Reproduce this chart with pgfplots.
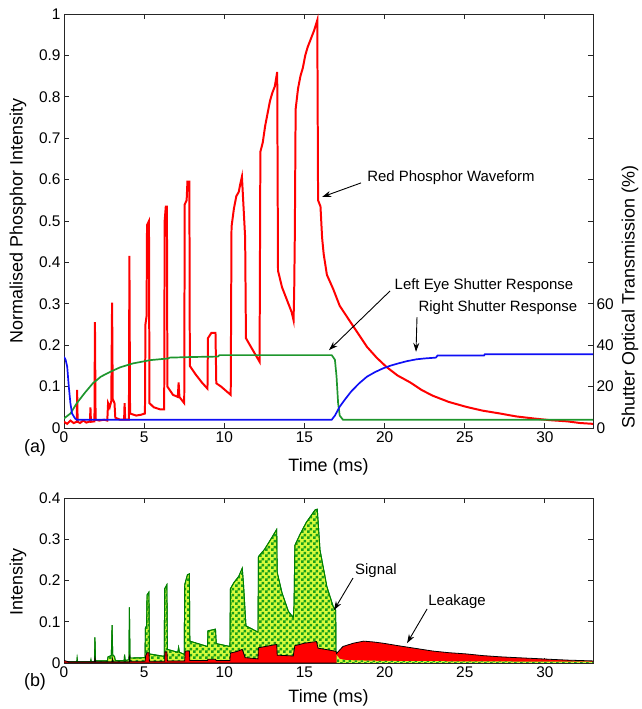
\documentclass[border=0pt]{standalone}
\usepackage{fontspec}
\setmainfont{Liberation Sans}
\usepackage{pgfplots}
\pgfplotsset{compat=1.18}
\usetikzlibrary{arrows.meta,patterns}

\definecolor{pred}{RGB}{255,0,0}
\definecolor{lgreen}{RGB}{30,150,45}
\definecolor{rblue}{RGB}{15,15,245}
\definecolor{chkgreen}{RGB}{25,160,25}
\definecolor{chkyellow}{RGB}{215,250,60}

\pgfdeclarepatternformonly{chk}{\pgfqpoint{0pt}{0pt}}{\pgfqpoint{5.6pt}{5.6pt}}{\pgfqpoint{5.6pt}{5.6pt}}{%
  \pgfpathrectangle{\pgfqpoint{0pt}{0pt}}{\pgfqpoint{2.8pt}{2.8pt}}%
  \pgfpathrectangle{\pgfqpoint{2.8pt}{2.8pt}}{\pgfqpoint{2.8pt}{2.8pt}}%
  \pgfusepath{fill}}

\tikzset{
  ann/.style={font=\fontsize{15}{16}\selectfont},
  arr/.style={-{Stealth[length=9pt,width=6pt]}, line width=0.9pt},
}
\pgfplotsset{
  common/.style={
    scale only axis, xmin=0, xmax=33,
    axis line style={black!85, line width=0.9pt},
    every tick/.style={black!85, line width=0.9pt},
    major tick length=5bp,
    tick label style={font=\fontsize{15.5}{16}\selectfont},
    label style={font=\fontsize{18}{20}\selectfont},
    /pgf/number format/assume math mode=true,
    /pgf/number format/fixed,
  },
}

\begin{document}
\begin{tikzpicture}
\useasboundingbox (0,0) rectangle (642bp,709bp);

% ---- (a) phosphor intensity ----
\begin{axis}[common,
  at={(64bp,281bp)}, anchor=south west,
  width=529bp, height=414bp,
  ymin=0, ymax=1,
  ytick={0,0.1,...,1}, ytick pos=left,
  xtick={0,5,...,30},
  xlabel={Time (ms)}, ylabel={Normalised Phosphor Intensity},
  xlabel style={at={(axis description cs:0.5,-0.094)}, anchor=center},
  ylabel style={at={(axis description cs:-0.087,0.5)}, anchor=center},
]
\addplot[pred, line width=2pt] coordinates {
(0,0.015)(0.2,0.01)(0.4,0.018)(0.6,0.012)(0.8,0.015)(0.82,0.092)(0.85,0.015)(1.0,0.012)
(1.2,0.018)(1.4,0.013)(1.62,0.016)(1.65,0.05)(1.68,0.015)(1.9,0.016)(1.93,0.256)(1.97,0.02)
(2.2,0.018)(2.5,0.02)(2.7,0.018)(2.75,0.06)(2.85,0.05)(2.95,0.065)(3.0,0.303)(3.04,0.07)
(3.15,0.06)(3.2,0.025)(3.5,0.02)(3.75,0.02)(3.78,0.06)(3.82,0.02)(4.05,0.02)(4.08,0.416)
(4.12,0.035)(4.5,0.03)(4.8,0.032)(5.05,0.035)(5.08,0.25)(5.15,0.27)(5.18,0.49)(5.3,0.5)
(5.33,0.06)(5.6,0.05)(6.0,0.045)(6.25,0.045)(6.28,0.5)(6.35,0.535)(6.42,0.535)(6.45,0.1)
(6.8,0.08)(7.1,0.075)(7.15,0.11)(7.2,0.075)(7.5,0.06)(7.53,0.54)(7.65,0.55)(7.7,0.595)
(7.82,0.595)(7.85,0.15)(8.2,0.13)(8.6,0.11)(8.95,0.095)(8.98,0.217)(9.2,0.23)(9.45,0.23)
(9.5,0.108)(9.8,0.1)(10.1,0.09)(10.4,0.08)(10.45,0.486)(10.6,0.53)(10.75,0.56)(10.9,0.57)
(11.0,0.59)(11.1,0.607)(11.3,0.46)(11.35,0.217)(11.6,0.2)(11.9,0.18)(12.2,0.16)(12.25,0.667)
(12.4,0.69)(12.55,0.73)(12.7,0.76)(12.85,0.79)(13.0,0.81)(13.15,0.825)(13.3,0.86)(13.35,0.38)
(13.6,0.34)(13.9,0.31)(14.2,0.28)(14.32,0.26)(14.36,0.33)(14.4,0.47)(14.45,0.77)(14.6,0.82)
(14.75,0.85)(14.9,0.87)(15.05,0.9)(15.2,0.92)(15.4,0.94)(15.6,0.96)(15.8,0.985)(15.85,0.55)
(16.0,0.535)(16.1,0.46)(16.2,0.42)(16.4,0.37)(16.8,0.335)(17.2,0.295)(17.8,0.26)(18.4,0.225)
(18.9,0.196)(19.5,0.17)(20.1,0.148)(20.8,0.127)(21.6,0.11)(22.3,0.092)(23,0.078)(24,0.063)
(25.1,0.051)(26.1,0.042)(27.2,0.035)(28.2,0.028)(29.3,0.023)(30.3,0.019)(31.4,0.016)
(32.2,0.012)(33,0.01)
};
\node[ann] at (axis cs:24.14,0.604) {Red Phosphor Waveform};
\draw[arr] (axis cs:18.53,0.592) -- (axis cs:16.1,0.558);
\node[ann] at (axis cs:26.2,0.345) {Left Eye Shutter Response};
\draw[arr] (axis cs:20.34,0.331) -- (axis cs:16.53,0.188);
\node[ann] at (axis cs:27.07,0.29) {Right Shutter Response};
\draw[arr] (axis cs:22.02,0.268) -- (axis cs:21.96,0.184);
\end{axis}

% ---- shutter transmission on the right axis ----
\begin{axis}[common,
  at={(64bp,281bp)}, anchor=south west,
  width=529bp, height=414bp,
  axis x line=none, axis y line*=right,
  ymin=0, ymax=200,
  ytick={0,20,...,200},
  yticklabels={0,20,40,60,,,,,,,},
  ylabel={Shutter Optical Transmission (\%)},
  ylabel style={at={(axis description cs:1.07,0.316)}, anchor=center},
]
\addplot[lgreen, line width=1.7pt] coordinates {
(0,4.6)(0.4,7)(0.8,12)(1.3,17)(1.8,21.6)(2.3,24.8)(2.9,27.2)(3.5,29.3)(4.3,31.2)(5.4,32.8)
(6.5,33.6)(6.6,34)(8,34.3)(9.6,34.5)(9.7,35.2)(16.7,35.2)(16.9,33)(17.0,25)(17.1,12)
(17.2,6)(17.4,4)(33,4)
};
\addplot[rblue, line width=1.7pt] coordinates {
(0,34.4)(0.1,33)(0.2,29.6)(0.3,20)(0.4,12)(0.5,7)(0.7,4.5)(0.8,4)(16.7,4)(16.9,6)(17.2,10.3)
(17.5,13.5)(17.9,17.5)(18.4,21.5)(18.9,24.8)(19.4,27)(19.9,28.8)(20.4,30.2)(20.9,31.3)
(21.4,32.3)(22.0,33.2)(22.5,33.6)(23.2,34)(23.3,35)(26.2,35)(26.25,35.6)(33,35.6)
};
\end{axis}

% ---- (b) signal and leakage ----
\begin{axis}[common,
  at={(64bp,46bp)}, anchor=south west,
  width=529bp, height=165bp,
  ymin=0, ymax=0.4,
  ytick={0,0.1,...,0.4},
  xtick={0,5,...,30},
  xlabel={Time (ms)}, ylabel={Intensity},
  xlabel style={at={(axis description cs:0.5,-0.212)}, anchor=center},
  ylabel style={at={(axis description cs:-0.087,0.49)}, anchor=center},
]
\addplot[draw=green!50!black, line width=0.9pt, fill=chkyellow,
  postaction={pattern=chk, pattern color=chkgreen}] coordinates {
(0,0.003)(0.8,0.003)(0.82,0.012)(0.85,0.003)(1.65,0.003)(1.68,0.008)(1.7,0.003)(1.9,0.004)
(1.93,0.062)(1.97,0.005)(2.7,0.005)(2.75,0.015)(2.95,0.018)(3.0,0.092)(3.04,0.02)(3.15,0.016)
(3.2,0.006)(3.75,0.006)(3.78,0.02)(3.82,0.006)(4.05,0.008)(4.08,0.135)(4.12,0.012)(5.05,0.013)
(5.08,0.085)(5.15,0.09)(5.18,0.165)(5.3,0.172)(5.33,0.022)(6.25,0.016)(6.28,0.18)(6.42,0.19)
(6.45,0.033)(7.1,0.026)(7.15,0.038)(7.2,0.026)(7.5,0.021)(7.53,0.19)(7.7,0.214)(7.82,0.216)
(7.85,0.053)(8.95,0.04)(8.98,0.078)(9.45,0.082)(9.5,0.047)(10.35,0.04)(10.38,0.18)(10.6,0.195)
(10.9,0.21)(11.12,0.23)(11.2,0.19)(11.35,0.09)(12.1,0.075)(12.13,0.258)(12.5,0.275)(12.9,0.3)
(13.27,0.324)(13.3,0.22)(13.6,0.17)(14.0,0.125)(14.3,0.11)(14.35,0.14)(14.4,0.285)(14.7,0.31)
(15.1,0.34)(15.66,0.371)(15.8,0.373)(15.97,0.274)(16.4,0.185)(16.8,0.136)(16.95,0.128)
(16.97,0.019)(17.0,0)
} \closedcycle;
\addplot[draw=black, line width=0.8pt, fill=pred] coordinates {
(0,0.006)(0.3,0.003)(1.9,0.003)(1.93,0.012)(1.97,0.003)(3.0,0.003)(3.02,0.01)(3.05,0.003)
(4.08,0.003)(4.1,0.02)(4.13,0.004)(5.05,0.004)(5.1,0.018)(5.18,0.025)(5.3,0.025)(5.33,0.004)
(6.28,0.004)(6.3,0.027)(6.42,0.027)(6.45,0.005)(7.53,0.005)(7.56,0.029)(7.82,0.029)(7.85,0.006)
(8.95,0.006)(8.98,0.009)(9.45,0.009)(9.5,0.006)(10.35,0.006)(10.38,0.024)(10.8,0.028)
(11.12,0.033)(11.3,0.013)(12.1,0.01)(12.13,0.037)(12.7,0.041)(13.27,0.045)(13.3,0.019)
(14.3,0.017)(14.4,0.042)(15.0,0.048)(15.75,0.052)(15.85,0.036)(16.6,0.031)(16.97,0.028)
(17.0,0.023)(17.4,0.04)(18.05,0.048)(18.7,0.053)(19.3,0.051)(19.9,0.048)(21,0.041)(22,0.035)
(23,0.029)(24,0.025)(25.1,0.022)(26.1,0.018)(27.2,0.015)(28.2,0.013)(29.3,0.011)(30.3,0.009)
(31.4,0.007)(32.2,0.006)(33,0.005)
} \closedcycle;
\addplot[draw=none, fill=chkyellow, postaction={pattern=chk, pattern color=chkgreen}] coordinates {
(17.0,0.02)(17.2,0.01)(17.6,0.007)(20,0.005)(25,0.004)(33,0.003)
} \closedcycle;
\node[ann] at (axis cs:19.46,0.225) {Signal};
\draw[arr] (axis cs:18.03,0.206) -- (axis cs:16.84,0.128);
\node[ann] at (axis cs:24.52,0.148) {Leakage};
\draw[arr] (axis cs:22.65,0.131) -- (axis cs:21.4,0.048);
\end{axis}

\node[font=\fontsize{18}{20}\selectfont] at (35bp,261bp) {(a)};
\node[font=\fontsize{18}{20}\selectfont] at (35bp,27bp) {(b)};
\end{tikzpicture}
\end{document}
